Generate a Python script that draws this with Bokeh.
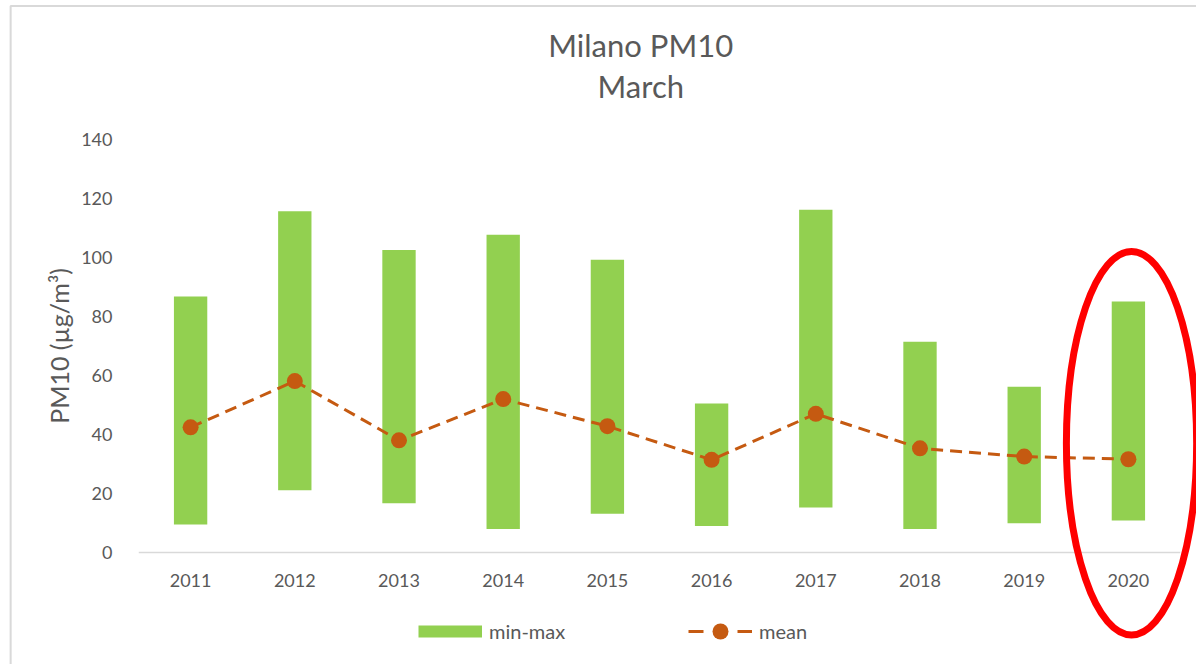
import math
from bokeh.plotting import figure
from bokeh.models import Range1d, FixedTicker, Legend, LegendItem
from bokeh.core.properties import value
from bokeh.embed import file_html
from bokeh.resources import INLINE

# ---- data ----
years = [2011, 2012, 2013, 2014, 2015, 2016, 2017, 2018, 2019, 2020]
pm_min = [9.5, 21.1, 16.7, 7.9, 13.1, 9.0, 15.2, 7.9, 9.9, 10.8]
pm_max = [86.8, 115.7, 102.5, 107.7, 99.2, 50.5, 116.2, 71.4, 56.2, 85.1]
pm_mean = [42.4, 58.1, 38.0, 52.0, 42.8, 31.4, 47.0, 35.3, 32.5, 31.6]
y_ticks = [0, 20, 40, 60, 80, 100, 120, 140]
title_lines = ["Milano PM10", "March"]
y_label = "PM10 (µg/m³)"

GREEN = "#92D050"
ORANGE = "#C55A11"
GREY_TXT = "#595959"
FONT = "Lato"
NAN = float("nan")

p = figure(width=1196, height=664, output_backend="svg", toolbar_location=None,
           x_range=Range1d(2010.5, 2020.5), y_range=Range1d(-38.0, 140),
           min_border_left=138, min_border_right=16, min_border_top=139,
           min_border_bottom=0)
p.outline_line_color = None
p.xgrid.visible = False
p.ygrid.visible = False
p.background_fill_color = "white"
p.border_fill_color = "white"

# chart-area border (light grey frame around the whole chart)
p.quad(left=[2009.273], right=[2022.0], top=[185.3], bottom=[-60.0],
       fill_color=None, line_color="#D9D9D9", line_width=2, level="overlay")

bars = p.vbar(x=years, bottom=pm_min, top=pm_max, width=0.32,
              fill_color=GREEN, line_color=None)
line = p.line(x=years, y=pm_mean, line_color=ORANGE, line_width=3,
              line_dash="12 7")
dots = p.scatter(x=years, y=pm_mean, size=16, fill_color=ORANGE,
                 line_color=None)
# legend-only strokes (no visible data)
leg_bar = p.line(x=years[:2], y=[NAN, NAN], line_color=GREEN, line_width=12)
leg_line = p.line(x=years[:2], y=[NAN, NAN], line_color=ORANGE, line_width=3,
                  line_dash="15 34")

# highlight ellipse around 2020
p.ellipse(x=[2020.03], y=[37], width=1.25, height=130, fill_color=None,
          line_color="#FF0000", line_width=7, level="overlay")

# title (two lines), drawn above the frame
p.text(x=[2015.32, 2015.32], y=[171.9, 158.0], text=title_lines,
       text_align="center", text_baseline="alphabetic",
       text_font=value(FONT), text_font_size="31px", text_color=GREY_TXT,
       level="overlay")

# y axis title (rotated), left of tick labels
p.text(x=[2009.74], y=[70], text=[y_label], angle=math.pi / 2,
       text_align="center", text_baseline="middle",
       text_font=value(FONT), text_font_size="25px", text_color=GREY_TXT,
       level="overlay")

# axes
p.xaxis.fixed_location = 0
p.xaxis.ticker = FixedTicker(ticks=years)
p.xaxis.axis_line_color = "#D9D9D9"
p.xaxis.axis_line_width = 1.5
p.xaxis.major_tick_line_color = None
p.xaxis.minor_tick_line_color = None
p.xaxis.major_label_text_font = FONT
p.xaxis.major_label_text_font_size = "18px"
p.xaxis.major_label_text_color = GREY_TXT
p.xaxis.major_label_standoff = 16

p.yaxis.ticker = FixedTicker(ticks=y_ticks)
p.yaxis.axis_line_color = None
p.yaxis.major_tick_line_color = None
p.yaxis.minor_tick_line_color = None
p.yaxis.major_label_text_font = FONT
p.yaxis.major_label_text_font_size = "18px"
p.yaxis.major_label_text_color = GREY_TXT
p.yaxis.major_label_standoff = 20

# legend
leg = Legend(items=[LegendItem(label="min-max", renderers=[leg_bar]),
                    LegendItem(label="mean", renderers=[leg_line, dots])],
             location=(280, 13), orientation="horizontal",
             glyph_width=64, glyph_height=40, label_standoff=7,
             label_width=78, spacing=121,
             padding=0, margin=0, border_line_color=None,
             background_fill_alpha=0,
             label_text_font=FONT, label_text_font_size="20px",
             label_text_color=GREY_TXT)
p.add_layout(leg)

open("out.html", "w").write(file_html(p, INLINE))
